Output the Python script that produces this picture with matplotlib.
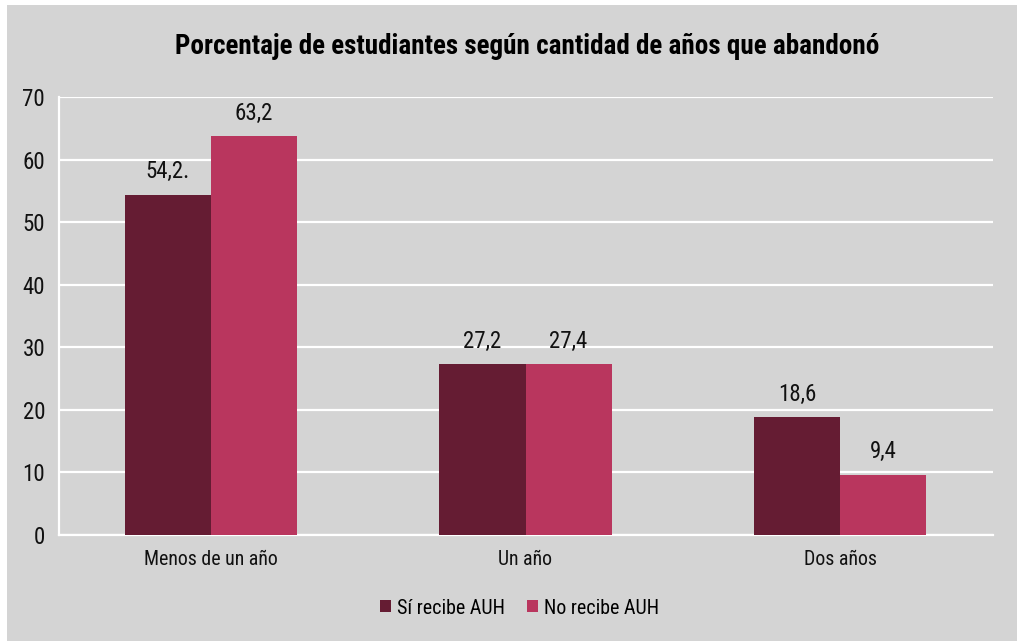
import matplotlib
matplotlib.use("Agg")
import matplotlib.pyplot as plt
from matplotlib import font_manager
import numpy as np

categories = ["Menos de un año", "Un año", "Dos años"]
si_recibe = [54.4, 27.3, 18.8]
no_recibe = [63.7, 27.3, 9.6]
si_labels = ["54,2.", "27,2", "18,6"]
no_labels = ["63,2", "27,4", "9,4"]
series_names = ["Sí recibe AUH", "No recibe AUH"]
yticks = [0, 10, 20, 30, 40, 50, 60, 70]

# pick a condensed sans face if one is installed
cands = []
for f in font_manager.fontManager.ttflist:
    st = str(f.stretch).lower()
    nm = f.name
    if "narrow" in nm.lower() or "condensed" in nm.lower() or st in ("condensed", "semi-condensed", "extra-condensed", "ultra-condensed") or (st.isdigit() and int(st) < 500):
        cands.append(f)
pref = ["Liberation Sans Narrow", "Roboto Condensed", "DejaVu Sans", "Open Sans Condensed", "Noto Sans"]
chosen = None
for p in pref:
    for f in cands:
        if f.name == p:
            chosen = f
            break
    if chosen:
        break
if chosen is None and cands:
    chosen = cands[0]

if chosen is not None:
    fam = chosen.name
    plt.rcParams["font.family"] = [fam, "DejaVu Sans"]
    if fam in ("DejaVu Sans", "Noto Sans", "Roboto", "Open Sans"):
        plt.rcParams["font.stretch"] = chosen.stretch
else:
    plt.rcParams["font.family"] = ["Liberation Sans", "DejaVu Sans"]

W, H = 1017, 641
fig = plt.figure(figsize=(W / 100, H / 100), dpi=100)
fig.patch.set_facecolor("white")
bg = "#d4d4d4"
fig.patches.append(plt.Rectangle((7 / W, 0), 1 - 7 / W, 1 - 5 / H, transform=fig.transFigure,
                                 facecolor=bg, edgecolor="none", zorder=-10))

ax = fig.add_axes([59 / W, (H - 535) / H, (993 - 59) / W, (535 - 97) / H])
ax.set_facecolor(bg)
ax.patch.set_alpha(0)

x = np.arange(len(categories))
w = 0.274
c1, c2 = "#651c33", "#b9365e"
b1 = ax.bar(x - w / 2, si_recibe, w, color=c1, label=series_names[0], zorder=3)
b2 = ax.bar(x + w / 2, no_recibe, w, color=c2, label=series_names[1], zorder=3)

for bars, labs in ((b1, si_labels), (b2, no_labels)):
    for rect, lab in zip(bars, labs):
        ax.annotate(lab, (rect.get_x() + rect.get_width() / 2, rect.get_height()),
                    xytext=(0, 12), textcoords="offset points", ha="center", va="baseline",
                    fontsize=16.5, color="#111111")

ax.set_ylim(0, 70)
ax.set_xlim((59 - 211) / 314.5, (993 - 211) / 314.5)
ax.set_yticks(yticks)
ax.set_yticklabels([str(v) for v in yticks], fontsize=16.5, color="#111111")
ax.set_xticks(x)
ax.set_xticklabels(categories, fontsize=14.3, color="#111111")
ax.tick_params(axis="both", length=0)
ax.tick_params(axis="y", pad=10)
ax.tick_params(axis="x", pad=10.5)
ax.grid(axis="y", color="white", linewidth=1.6, zorder=1)
for s in ["top", "right"]:
    ax.spines[s].set_visible(False)
for s in ["left", "bottom"]:
    ax.spines[s].set_color("white")
    ax.spines[s].set_linewidth(1.6)

fig.text(527.5 / W, 1 - 47 / H, "Porcentaje de estudiantes según cantidad de años que abandonó",
         ha="center", va="center", fontsize=19.5, fontweight="bold", color="black")

leg = ax.legend(loc="center", bbox_to_anchor=(520 / W, 1 - 608 / H), bbox_transform=fig.transFigure,
                ncol=2, frameon=False, fontsize=14.4, handlelength=0.55, handleheight=0.55,
                handletextpad=0.3, columnspacing=1.1)

fig.savefig("out.png", dpi=100, facecolor=fig.get_facecolor())
